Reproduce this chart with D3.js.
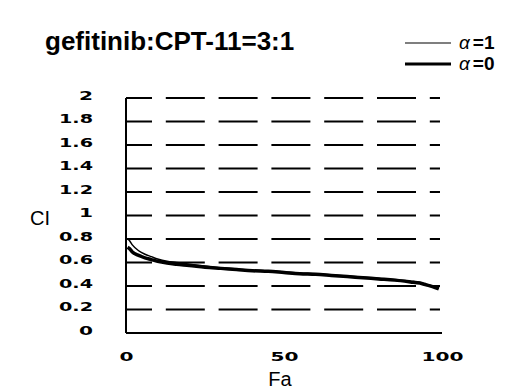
<!DOCTYPE html>
<html>
<head>
<meta charset="utf-8">
<script src="https://cdn.jsdelivr.net/npm/d3@7"></script>
<style>
  body { margin: 0; background: #fff; }
  svg { display: block; }
</style>
</head>
<body>
<svg id="chart" width="515" height="391"></svg>
<script>
// values
const fa = [0.5, 1, 2, 4, 6, 8, 10, 13, 16, 20, 25, 30, 35, 40, 45, 50, 55, 60, 65, 70, 75, 80, 85, 90, 93, 95, 97, 99];
const ciAlpha1 = [0.80, 0.79, 0.75, 0.70, 0.67, 0.65, 0.63, 0.61, 0.60, 0.585, 0.57, 0.555, 0.545, 0.535, 0.53, 0.52, 0.51, 0.505, 0.495, 0.485, 0.475, 0.465, 0.455, 0.44, 0.43, 0.415, 0.40, 0.38];
const ciAlpha0 = [0.73, 0.72, 0.69, 0.66, 0.64, 0.625, 0.61, 0.595, 0.585, 0.575, 0.56, 0.55, 0.54, 0.53, 0.525, 0.515, 0.505, 0.50, 0.49, 0.48, 0.47, 0.46, 0.45, 0.435, 0.425, 0.41, 0.395, 0.375];
const yTicks = [0, 0.2, 0.4, 0.6, 0.8, 1, 1.2, 1.4, 1.6, 1.8, 2];
const xTicks = [0, 50, 100];
const legendValues = ["1", "0"];

const svg = d3.select("#chart");
const margin = {top: 98, left: 126, right: 73, bottom: 58};
const W = 515, H = 391;

const x = d3.scaleLinear().domain([0, 100]).range([margin.left, W - margin.right]);
const y = d3.scaleLinear().domain([0, 2]).range([H - margin.bottom, margin.top]);

// stretch tick glyphs, the source font is very wide
function stretch(sel) {
    sel.each(function() {
        const t = d3.select(this), s = t.text();
        let len = 0;
        for (const c of s) len += c === "." ? 6 : 14;
        t.attr("textLength", len).attr("lengthAdjust", "spacingAndGlyphs");
    });
}

// dashed gridlines
svg.append("g")
    .selectAll("line")
    .data(yTicks.filter(d => d > 0))
    .enter().append("line")
        .attr("x1", x(0))
        .attr("x2", x(100) - 2)
        .attr("y1", d => y(d))
        .attr("y2", d => y(d))
        .attr("stroke", "#000")
        .attr("stroke-width", 2)
        .attr("stroke-dasharray", "39 13.8")
        .attr("stroke-dashoffset", 13);

const yAxis = svg.append("g")
    .attr("transform", `translate(${margin.left},0)`)
    .call(d3.axisLeft(y).tickValues(yTicks).tickSize(0).tickPadding(33).tickFormat(d3.format("")))
    .call(g => g.select(".domain").attr("stroke-width", 2).attr("d", `M0,${y(2)}V${y(0)}`));
yAxis.selectAll("text")
    .style("font", "bold 12px 'DejaVu Sans'")
    .attr("dy", "0.1em")
    .call(stretch);

const xAxis = svg.append("g")
    .attr("transform", `translate(0,${y(0)})`)
    .call(d3.axisBottom(x).tickValues(xTicks).tickSize(0).tickPadding(19))
    .call(g => g.select(".domain").attr("stroke-width", 2).attr("d", `M${x(0)},0H${x(100)}`));
xAxis.selectAll("text")
    .style("font", "bold 12px 'DejaVu Sans'")
    .call(stretch);

// curves
const line = d3.line().x(d => x(d[0])).y(d => y(d[1])).curve(d3.curveMonotoneX);
svg.append("path")
    .datum(fa.map((f, i) => [f, ciAlpha0[i]]))
    .attr("fill", "none").attr("stroke", "#000").attr("stroke-width", 3.5)
    .attr("d", line);
svg.append("path")
    .datum(fa.map((f, i) => [f, ciAlpha1[i]]))
    .attr("fill", "none").attr("stroke", "#000").attr("stroke-width", 1.5)
    .attr("d", line);

// labels
svg.append("text")
    .attr("x", 45).attr("y", 50)
    .style("font", "bold 26px 'Liberation Sans'")
    .text("gefitinib:CPT-11=3:1");

svg.append("text")
    .attr("x", 30).attr("y", 225)
    .style("font", "20px 'Liberation Sans'")
    .text("CI");

svg.append("text")
    .attr("x", 280).attr("y", 386)
    .attr("text-anchor", "middle")
    .style("font", "20px 'Liberation Sans'")
    .text("Fa");

// legend
const legend = svg.append("g")
    .selectAll("g")
    .data(legendValues)
    .enter().append("g")
        .attr("transform", (d, i) => `translate(405,${43 + i * 21})`);
legend.append("line")
    .attr("x1", 0).attr("x2", 46)
    .attr("stroke", "#000")
    .attr("stroke-width", (d, i) => i === 0 ? 1.2 : 3);
const lt = legend.append("text")
    .attr("x", 54).attr("y", 6)
    .style("font", "bold 19px 'Liberation Sans'");
lt.append("tspan").style("font-style", "italic").style("font-weight", "normal").text("\u03b1");
lt.append("tspan").attr("dx", 3).text(d => "=" + d);
</script>
</body>
</html>
